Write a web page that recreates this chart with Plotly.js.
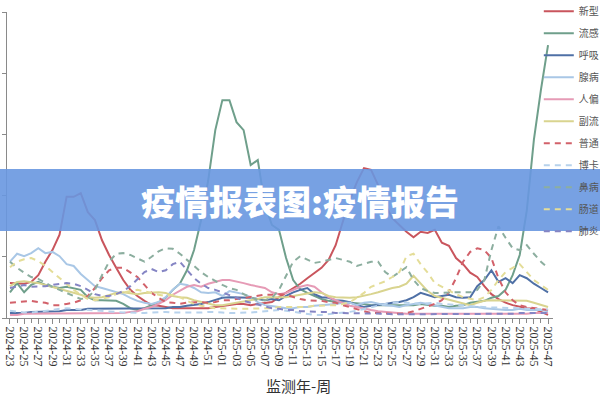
<!DOCTYPE html>
<html>
<head>
<meta charset="utf-8">
<script src="https://cdn.plot.ly/plotly-3.0.1.min.js"></script>
<style>html,body{margin:0;padding:0;background:#fff;}#chart{width:600px;height:400px;}</style>
</head>
<body>
<div id="chart"></div>
<script>
const weeks = ["2024-23","2024-24","2024-25","2024-26","2024-27","2024-28","2024-29","2024-30","2024-31","2024-32","2024-33","2024-34","2024-35","2024-36","2024-37","2024-38","2024-39","2024-40","2024-41","2024-42","2024-43","2024-44","2024-45","2024-46","2024-47","2024-48","2024-49","2024-50","2024-51","2024-52",
"2025-01","2025-02","2025-03","2025-04","2025-05","2025-06","2025-07","2025-08","2025-09","2025-10","2025-11","2025-12","2025-13","2025-14","2025-15","2025-16","2025-17","2025-18","2025-19","2025-20","2025-21","2025-22","2025-23","2025-24","2025-25","2025-26","2025-27","2025-28","2025-29","2025-30","2025-31","2025-32","2025-33","2025-34","2025-35","2025-36","2025-37","2025-38","2025-39","2025-40","2025-41","2025-42","2025-43","2025-44","2025-45","2025-46","2025-47"];
const tickLabels = ["2024-23","2024-25","2024-27","2024-29","2024-31","2024-33","2024-35","2024-37","2024-39","2024-41","2024-43","2024-45","2024-47","2024-49","2024-51","2025-01","2025-03","2025-05","2025-07","2025-09","2025-11","2025-13","2025-15","2025-17","2025-19","2025-21","2025-23","2025-25","2025-27","2025-29","2025-31","2025-33","2025-35","2025-37","2025-39","2025-41","2025-43","2025-45","2025-47"];

// legend labels as visible in the reference
const seriesNames = ["新型","流感","呼吸","腺病","人偏","副流","普通","博卡","鼻病","肠道","肺炎"];

const covid = [5.7,5.7,5.6,5.9,7.0,9.2,11.1,13.6,19.8,19.8,20.4,17.3,16.0,12.7,10.3,8.2,6.2,4.6,3.6,2.8,2.1,2.0,1.8,1.6,1.6,1.6,1.5,1.5,1.6,1.8,
2.0,2.1,2.3,2.3,2.1,2.3,2.5,2.6,3.4,4.1,4.9,5.6,6.5,7.4,8.2,9.5,11.9,15.7,19.3,22.2,24.5,24.2,21.7,18.5,16.3,15.2,14.1,13.2,14.1,13.9,14.4,12.3,11.8,9.8,8.8,7.4,6.7,5.2,3.9,3.1,2.5,2.1,1.8,1.6,1.5,1.0,0.5];
const flu = [4.2,5.7,4.2,5.4,5.9,5.4,5.1,4.9,5.1,4.9,4.6,3.4,2.9,2.9,2.9,2.8,2.3,1.6,1.3,1.6,2.1,2.6,3.3,4.6,5.6,7.8,11.1,16.0,22.5,30.7,
35.6,35.6,32.0,30.7,25.0,25.8,18.5,15.2,14.4,9.8,6.2,4.7,4.1,3.6,3.1,2.8,2.6,2.6,2.5,2.5,2.3,2.1,2.1,2.1,2.0,2.0,2.1,2.1,2.3,2.1,2.0,2.0,1.8,2.0,2.1,2.5,2.6,2.8,3.3,3.6,4.6,7.0,10.3,17.6,29.1,37.3,44.6];
const rsv = [0.8,0.8,0.8,1.0,1.0,1.0,1.1,1.1,1.3,1.3,1.3,1.5,1.5,1.6,1.6,1.6,1.6,1.6,1.5,1.5,1.5,1.6,1.6,1.8,1.8,2.0,2.1,2.3,2.6,2.9,
3.3,3.4,3.4,3.4,3.3,3.1,2.9,3.1,2.9,3.6,4.2,4.6,4.9,3.9,3.4,3.3,2.9,2.8,2.6,2.1,1.8,2.0,2.1,2.3,2.5,2.6,2.9,3.4,4.1,3.8,3.4,3.6,3.8,3.4,3.3,3.4,5.2,6.2,7.8,5.9,6.5,5.7,7.0,6.5,5.6,4.9,4.2];
const adeno = [9.2,10.5,10.1,10.6,11.4,10.6,10.8,10.1,8.8,8.5,7.2,6.2,5.2,4.9,4.6,4.2,3.9,3.3,2.8,2.5,2.3,2.6,3.4,4.6,5.6,5.4,4.9,4.2,4.1,4.2,
3.6,4.4,4.2,3.9,3.4,2.6,2.1,2.0,1.8,1.6,1.6,1.8,1.8,2.0,2.1,2.1,2.3,2.5,2.5,2.1,2.5,2.6,2.3,2.1,2.0,1.8,2.1,2.3,2.5,2.3,2.1,1.8,1.6,1.6,1.6,1.8,1.8,1.6,1.5,1.3,1.3,1.3,1.5,1.3,1.3,1.3,1.1];
const hmpv = [0.5,0.5,0.7,0.7,0.8,0.8,0.7,0.8,0.8,0.7,0.7,0.7,0.7,0.7,0.7,0.8,0.8,1.0,1.1,1.5,1.8,2.3,2.9,3.8,4.4,5.1,5.4,5.1,5.6,5.9,
6.2,6.2,6.0,5.7,5.4,5.2,4.9,4.2,3.9,4.1,4.6,5.1,5.4,5.1,4.2,3.4,2.9,2.5,2.0,1.8,1.5,1.3,1.1,1.0,0.8,0.8,0.7,0.7,0.7,0.7,0.7,0.7,0.7,0.6,0.6,0.6,0.7,0.7,0.7,0.6,0.6,0.7,0.7,0.7,0.8,0.8,0.8];
const paraflu = [5.2,5.9,6.0,5.9,5.7,5.4,5.1,4.7,4.4,4.1,3.8,3.4,3.3,3.4,3.8,4.1,4.2,4.1,3.9,4.1,4.2,4.2,4.1,3.6,3.4,3.3,2.9,2.6,2.3,2.1,
2.1,2.3,2.5,2.6,2.8,3.1,3.4,3.4,3.3,3.4,3.6,3.8,4.1,4.2,4.1,3.6,3.4,3.3,3.3,3.4,3.6,3.9,4.2,4.6,4.9,5.1,5.6,6.9,5.6,4.4,3.6,3.3,2.9,2.6,2.3,2.1,2.5,2.8,2.9,2.9,2.9,2.9,2.9,2.8,2.5,2.1,1.8];
const hcov = [2.5,2.6,2.8,2.8,2.6,2.5,2.1,2.1,2.3,2.5,2.9,3.6,4.9,6.5,7.8,8.2,8.2,7.5,6.7,5.4,4.1,3.3,2.6,2.5,2.3,2.5,2.6,2.6,2.5,2.6,
2.9,2.9,3.1,3.3,3.4,3.6,3.8,3.8,3.9,3.8,3.4,3.1,2.9,2.9,2.8,2.6,2.5,2.1,1.8,1.5,1.1,0.8,0.8,0.7,0.7,0.7,0.8,1.1,1.5,1.8,2.3,2.9,4.2,6.5,9.2,10.8,11.4,11.1,9.8,6.5,4.2,2.9,2.1,1.8,1.6,1.5,1.3];
const boca = [1.2,1.0,0.9,0.9,1.0,1.2,1.3,1.5,1.6,1.5,1.4,1.3,1.2,1.1,1.0,1.0,0.9,0.9,0.8,0.8,0.9,1.0,1.0,0.9,0.9,0.8,0.8,0.9,1.0,1.0,
0.9,0.8,0.8,0.8,0.9,1.0,1.1,1.2,1.3,1.2,1.0,0.8,0.6,0.5,0.5,0.6,0.7,0.8,1.0,1.2,1.5,1.8,2.0,2.3,2.5,2.6,2.5,2.4,2.3,2.4,2.5,2.3,2.2,2.1,2.0,1.9,1.8,1.8,1.7,1.7,1.7,1.6,1.6,1.5,1.5,1.5,1.4];
const rhino = [9.2,8.2,7.4,6.7,6.4,5.7,5.1,4.6,4.1,3.6,3.1,3.3,4.6,7.0,9.2,10.5,10.6,10.3,9.8,9.2,10.0,10.9,11.4,11.3,10.5,9.5,8.5,7.5,6.7,6.0,
5.4,4.9,4.6,3.9,3.4,2.9,2.9,3.3,4.6,7.0,9.2,10.1,9.5,9.0,9.2,9.5,9.8,9.5,9.2,8.5,8.8,9.2,9.2,7.5,6.7,7.5,8.3,6.2,4.9,4.4,4.1,4.1,4.2,4.2,4.2,4.2,4.6,6.2,11.1,15.0,13.1,11.4,11.1,11.9,10.5,9.2,8.2];
const entero = [8.3,9.2,9.6,9.8,9.3,8.5,7.5,6.5,5.6,4.6,3.8,3.1,2.9,3.1,3.4,3.9,4.2,4.4,4.6,4.4,4.1,3.8,3.6,3.8,3.4,2.8,2.3,2.0,1.8,1.6,
1.6,1.5,1.5,1.5,1.5,1.6,1.6,1.6,1.8,1.8,1.8,1.8,1.8,2.0,2.0,2.1,2.1,2.3,2.6,3.3,4.1,5.1,5.6,6.0,6.7,7.5,10.1,10.5,8.8,7.4,5.7,5.1,4.4,3.9,3.4,3.1,2.9,3.4,4.6,6.2,7.5,8.2,8.8,7.5,6.2,5.4,4.6];
const myco = [4.9,5.2,5.4,5.1,5.1,5.2,5.4,5.6,5.7,5.6,5.2,4.6,3.9,3.6,3.6,3.9,4.4,5.2,6.4,7.5,8.0,7.5,7.8,8.8,9.2,7.8,6.5,5.6,4.9,4.6,
4.2,3.8,3.3,2.8,2.5,2.1,1.8,1.6,1.5,1.3,1.3,1.1,1.1,1.0,1.0,1.0,0.8,0.8,0.8,0.7,0.7,0.7,0.7,0.7,0.6,0.6,0.6,0.7,0.7,0.7,0.7,0.7,0.6,0.6,0.6,0.6,0.7,0.7,0.7,0.7,0.7,0.7,0.8,0.8,0.8,0.8,0.8];

const seriesData = [covid, flu, rsv, adeno, hmpv, paraflu, hcov, boca, rhino, entero, myco];
const colors = ["#c9555d","#6f9f8b","#4f70a6","#a9c7e6","#e69bb6","#d9d48f","#d2616a","#b7d2ec","#8cae9f","#e4dd98","#8585c4"];
const dashes = ["solid","solid","solid","solid","solid","solid","6px,5px","6px,5px","6px,5px","6px,5px","6px,5px"];

const xIdx = weeks.map((w, i) => i);
const tickIdx = tickLabels.map(t => weeks.indexOf(t));

const traces = seriesNames.map((name, k) => ({
  type: "scatter", mode: "lines", name: name, legendgroup: "g" + k,
  x: xIdx, y: seriesData[k],
  line: {color: colors[k], width: 2, dash: dashes[k]},
  hoverinfo: "skip"
}));

const layout = {
  width: 600, height: 400,
  margin: {l: 7, r: 47, t: 12, b: 82, autoexpand: false},
  paper_bgcolor: "#fff", plot_bgcolor: "#fff",
  font: {family: "Noto Sans CJK SC, sans-serif", color: "#444"},
  showlegend: true,
  legend: {
    x: 0.974, xanchor: "left", y: 1.05, yanchor: "top", maxheight: 380,
    font: {size: 10, color: "#555", family: "Noto Sans CJK SC"},
    tracegroupgap: 3, itemwidth: 30, bgcolor: "rgba(0,0,0,0)"
  },
  xaxis: {
    range: [-0.42, 76.7], showgrid: false, zeroline: false,
    showline: true, linecolor: "#8a8a8a", linewidth: 1,
    ticks: "outside", ticklen: 5, tickcolor: "#8a8a8a",
    tickmode: "array", tickvals: tickIdx, ticktext: tickLabels,
    tickangle: 90, tickfont: {family: "Liberation Serif", size: 12, color: "#333"},
    minor: {dtick: 1, ticks: "outside", ticklen: 4, tickcolor: "#8a8a8a", showgrid: false}
  },
  yaxis: {
    range: [0, 50], dtick: 10, showgrid: false, zeroline: false,
    showline: true, linecolor: "#8a8a8a", linewidth: 1,
    ticks: "outside", ticklen: 4, tickcolor: "#8a8a8a",
    showticklabels: false
  },
  shapes: [{
    type: "rect", xref: "paper", yref: "paper", layer: "above",
    x0: -0.02, x1: 1.1, y0: 0.284, y1: 0.487,
    fillcolor: "rgba(104,151,224,0.9)", line: {width: 0}
  }],
  annotations: [{
    xref: "paper", yref: "paper", x: 0.533, y: -0.219, xanchor: "center", yanchor: "middle",
    text: "监测年-周", showarrow: false,
    font: {family: "Noto Sans CJK SC", size: 15, color: "#333"}
  }, {
    xref: "paper", yref: "paper", x: 0.5366, y: 0.3856, xanchor: "center", yanchor: "middle",
    text: "疫情报表图:疫情报告", showarrow: false,
    font: {family: "Noto Sans CJK SC", size: 34, color: "#ffffff", weight: 900}
  }]
};

Plotly.newPlot("chart", traces, layout, {staticPlot: true, displayModeBar: false});
</script>
</body>
</html>
